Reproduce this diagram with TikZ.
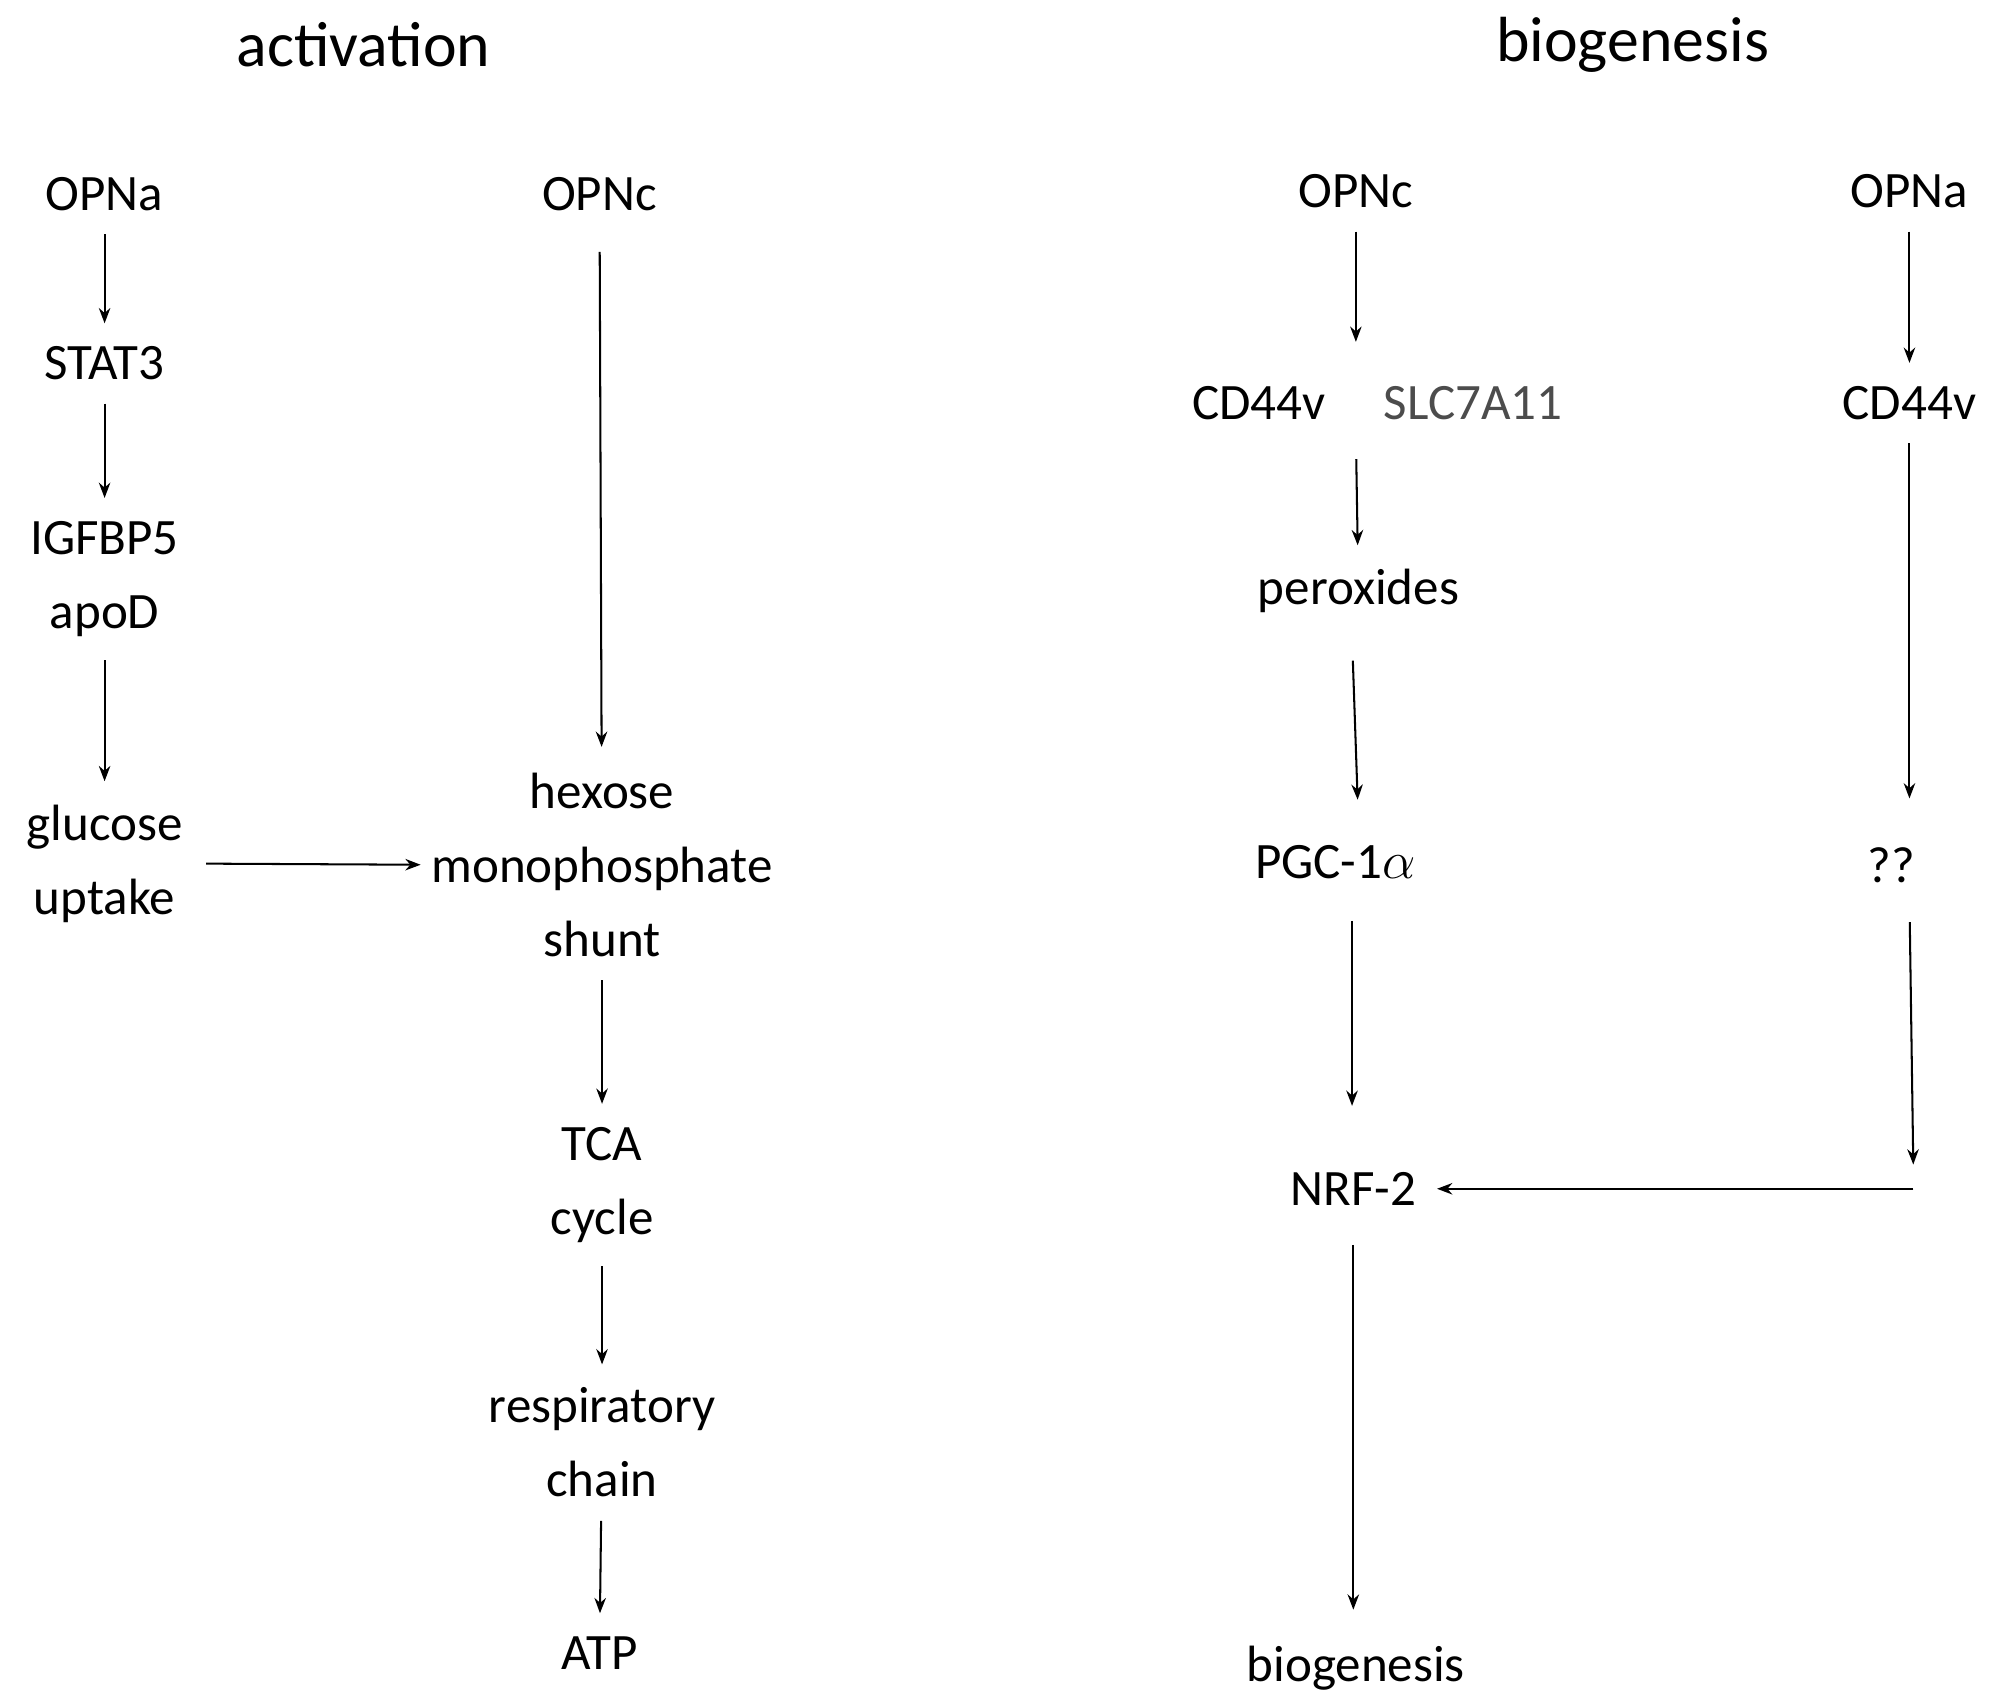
\documentclass[tikz,border=0pt]{standalone}
\usepackage{fontspec}
\setmainfont{Carlito}
\usetikzlibrary{arrows.meta}
\begin{document}
\begin{tikzpicture}[x=0.5pt,y=-0.5pt,
  t/.style={inner sep=0pt,align=center,font=\fontsize{20}{29}\selectfont},
  h/.style={inner sep=0pt,font=\fontsize{25}{30}\selectfont},
  a/.style={-{Stealth[length=6pt,width=4.5pt]},line width=0.8pt,shorten <=9pt,shorten >=9pt}]
\useasboundingbox (0,0) rectangle (1568,1336);
\node[h] (h1) at (285,35) {activation};
\node[h] (h2) at (1280,35) {biogenesis};
\node[t] (opna) at (82,152) {OPNa};
\node[t] (stat) at (82,285) {STAT3};
\node[t] (igf) at (82,454) {IGFBP5\\apoD};
\node[t] (glu) at (82,677) {glucose\\uptake};
\node[t] (opnc) at (470,152) {OPNc};
\node[t] (hex) at (472,678) {hexose\\monophosphate\\shunt};
\node[t] (tca) at (472,929) {TCA\\cycle};
\node[t] (resp) at (472,1131) {respiratory\\chain};
\node[t] (atp) at (470,1296) {ATP};
\draw[a] (opna) -- (stat);
\draw[a] (stat) -- (igf);
\draw[a] (igf) -- (glu);
\draw[a,shorten <=16pt,shorten >=10pt] (opnc) -- (hex);
\draw[a,shorten >=4pt] (glu.east) -- (hex.west);
\draw[a] (hex) -- (tca);
\draw[a] (tca) -- (resp);
\draw[a] (resp) -- (atp);
\node[t] (opnc2) at (1063,150) {OPNc};
\node[t] (cd1) at (987,316) {CD44v};
\node[t,text=black!70] (slc) at (1155,316) {SLC7A11};
\node[t] (per) at (1065,463) {peroxides};
\node[t] (pgc) at (1047,676) {PGC-1$\alpha$};
\node[t] (nrf) at (1061,932) {NRF-2};
\node[t] (bio) at (1063,1308) {biogenesis};
\node[t] (opna2) at (1497,150) {OPNa};
\node[t] (cd2) at (1497,316) {CD44v};
\node[t] (qq) at (1483,678) {??};
\coordinate (c1) at (1500,913);
\coordinate (c2) at (1500,932);
\draw[a] (opnc2) -- (1063,286);
\draw[a] (1063,342) -- (per);
\draw[a] (1060,500) -- (1065,645);
\draw[a] (1060,704) -- (1060,885);
\draw[a] (1061,958) -- (1061,1280);
\draw[a] (opna2) -- (cd2);
\draw[a,shorten >=10pt] (cd2) -- (1497,646);
\draw[a,shorten >=0pt] (1497,705) -- (c1);
\draw[a,shorten <=0pt,shorten >=8pt] (c2) -- (nrf.east);
\end{tikzpicture}
\end{document}
